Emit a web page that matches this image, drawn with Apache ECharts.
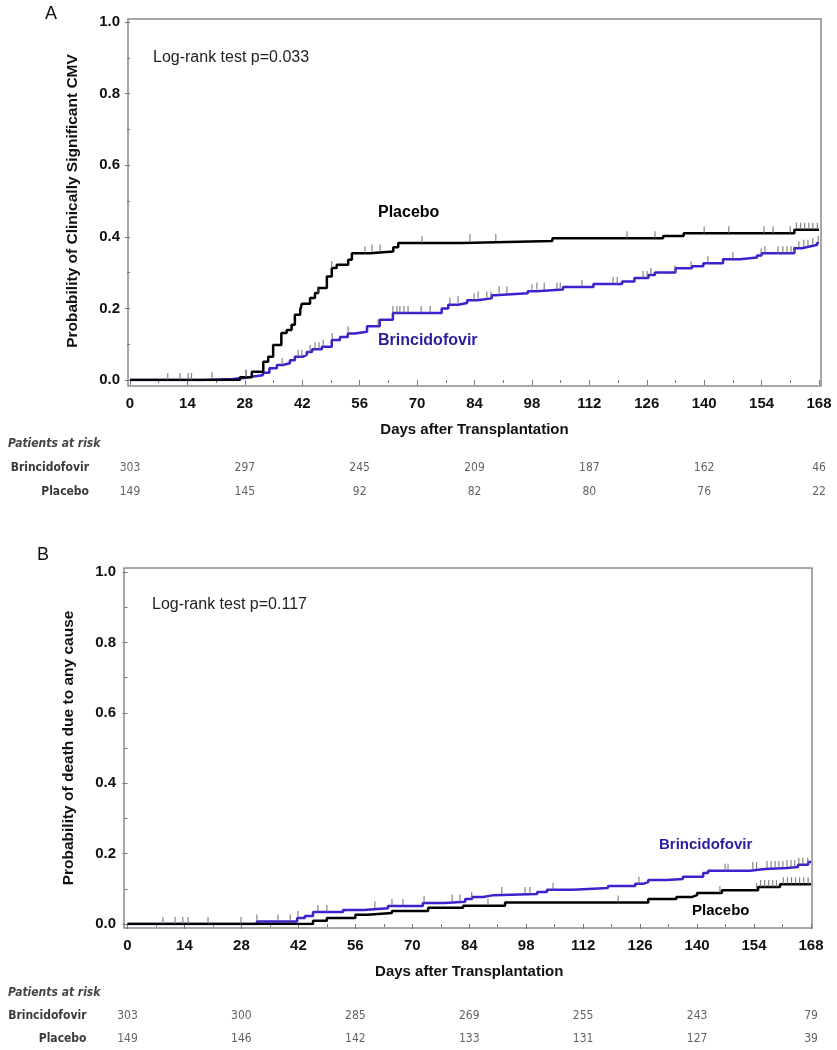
<!DOCTYPE html>
<html>
<head>
<meta charset="utf-8">
<script src="https://cdn.jsdelivr.net/npm/echarts@6/dist/echarts.min.js"></script>
<style>html,body{margin:0;padding:0;background:#fff}#c{width:837px;height:1050px}</style>
</head>
<body>
<div id="c"></div>
<script>
// ---------- DATA ----------
const xTicks = [0, 14, 28, 42, 56, 70, 84, 98, 112, 126, 140, 154, 168];
const riskDays = [0, 28, 56, 84, 112, 140, 168];

// Panel A: clinically significant CMV (step points [day, probability])
const cmvPlacebo = [[0,0],[26.8,0.008],[29.7,0.023],[32.5,0.051],[33.7,0.065],[34.9,0.098],[36.9,0.131],[38.2,0.14],[39.4,0.154],[40.2,0.182],[41.5,0.196],[41.9,0.213],[43.9,0.229],[45.1,0.243],[45.9,0.257],[48.0,0.289],[49.2,0.313],[50.4,0.322],[53.2,0.336],[54.1,0.354],[58.5,0.359],[64.2,0.371],[65.4,0.383],[81,0.388],[103,0.396],[130,0.402],[135,0.41],[162,0.42],[168,0.42]];
const cmvBrinci = [[0,0],[17.9,0.003],[25,0.006],[28.3,0.01],[30,0.013],[32.4,0.02],[34,0.033],[35.8,0.042],[37.3,0.047],[39,0.055],[40.2,0.065],[42.2,0.07],[43.1,0.078],[44.4,0.086],[46.8,0.093],[49.2,0.112],[51.2,0.12],[53.1,0.13],[54.8,0.135],[57.8,0.15],[60.9,0.168],[64.1,0.187],[76,0.2],[77.6,0.21],[80,0.215],[82.2,0.223],[84.6,0.228],[88.2,0.237],[89,0.242],[97,0.248],[99.2,0.253],[105.6,0.26],[113,0.268],[120,0.275],[123,0.285],[126.4,0.293],[128,0.3],[133,0.312],[137,0.318],[139.8,0.326],[144.6,0.337],[148.7,0.342],[152.9,0.348],[154,0.354],[162,0.368],[163.8,0.372],[165.4,0.377],[167.5,0.383],[168,0.383]];
const cmvPlaceboCensor = [9.2,12.2,14.2,15,28.3,45.8,49.2,57.3,59,61,71.2,82.9,89.2,121.2,128,140,146,154.6,156.8,161,162.5,163.5,164.5,165.5,166.5,167.6];
const cmvBrinciCensor = [20,28.3,37.1,41,41.9,43.9,45.1,46.1,47.1,49.3,53.2,60.5,64.1,65.1,65.8,66.8,67.8,71,73.2,78,80,83.9,84.9,87,88,90,91.9,98,99.2,101,104.1,104.9,110.2,117.8,118.8,125.1,126.1,127,132.9,136.8,140.9,147,153.9,154.8,158,159.2,160.2,161.2,161.9,163.1,164.3,165.3,166.5,167.8];
const cmvRiskBrinci = [303, 297, 245, 209, 187, 162, 46];
const cmvRiskPlacebo = [149, 145, 92, 82, 80, 76, 22];

// Panel B: death due to any cause
const deathPlacebo = [[0,0],[45.6,0.009],[49,0.017],[56,0.026],[59,0.031],[65,0.037],[73.9,0.046],[82.5,0.052],[92.8,0.061],[128,0.071],[134.9,0.077],[138.8,0.082],[140,0.088],[146.1,0.096],[155,0.105],[160.4,0.113],[168,0.113]];
const deathBrinci = [[0,0],[31.8,0.007],[41.7,0.017],[43.6,0.023],[45.6,0.034],[53,0.04],[58,0.045],[64,0.051],[72.6,0.06],[78,0.063],[83,0.071],[84.7,0.077],[87.4,0.082],[90,0.085],[100.7,0.091],[103.1,0.097],[109.5,0.102],[118.1,0.108],[124.8,0.114],[126.7,0.119],[128,0.125],[132.6,0.128],[136.5,0.134],[141.5,0.145],[142.7,0.151],[153,0.156],[156.7,0.159],[162.1,0.162],[164.8,0.168],[167.3,0.176],[168,0.176]];
const deathPlaceboCensor = [8.7,11.7,13.6,14.9,19.8,27.9,88.6,120.6,145.6,154.6,155.6,156.6,157.6,158.6,159.5,161.2,162.2,163.2,164.2,165.2,166.2,167.3];
const deathBrinciCensor = [31.8,37,40,41.9,46.8,49,60.8,65,67.7,72.9,79.8,81.7,84.6,92,97.7,98.9,104.6,125.7,146.9,147.6,153.7,154.6,157.2,158.2,159.2,160.1,161.1,162.1,163.1,164,165,166,167.2];
const deathRiskBrinci = [303, 300, 285, 269, 255, 243, 79];
const deathRiskPlacebo = [149, 146, 142, 133, 131, 127, 39];

// ---------- HELPERS ----------
const F = "'Liberation Sans', Arial, Helvetica, sans-serif";
const N = "'Liberation Sans Narrow', 'DejaVu Sans Condensed', 'Liberation Sans', sans-serif";
const BLUE = '#3a22cf';
const BLUE_TXT = '#2b1d9c';

function stepValue(curve, d) {
  let v = 0;
  for (const p of curve) { if (p[0] <= d) v = p[1]; else break; }
  return v;
}
function censorData(curve, days) { return days.map(d => [d, stepValue(curve, d)]); }
function riskData(brinci, placebo) {
  const out = [];
  riskDays.forEach((d, i) => {
    out.push([d, 'Brincidofovir', brinci[i]]);
    out.push([d, 'Placebo', placebo[i]]);
  });
  return out;
}

function plotX(gi, offset) {
  return {
    gridIndex: gi, type: 'value', min: 0, max: 168, interval: 14, offset: offset,
    axisLine: { show: false },
    axisTick: { show: true, length: 5, lineStyle: { color: '#777', width: 1 } },
    minorTick: { show: true, splitNumber: 2, length: 3, lineStyle: { color: '#777' } },
    splitLine: { show: false },
    axisLabel: { margin: 10, fontFamily: F, fontWeight: 'bold', fontSize: 15, color: '#111' },
    name: 'Days after Transplantation', nameLocation: 'middle', nameGap: 36,
    nameTextStyle: { fontFamily: F, fontWeight: 'bold', fontSize: 15, color: '#111' }
  };
}
function plotY(gi, offset, name) {
  return {
    gridIndex: gi, type: 'value', min: 0, max: 1, interval: 0.2, offset: offset,
    axisLine: { show: false },
    axisTick: { show: true, length: 5, lineStyle: { color: '#777', width: 1 } },
    minorTick: { show: true, splitNumber: 2, length: 3, lineStyle: { color: '#777' } },
    splitLine: { show: false },
    axisLabel: { margin: 8, fontFamily: F, fontWeight: 'bold', fontSize: 15, color: '#111',
      formatter: v => v.toFixed(1) },
    name: name, nameLocation: 'middle', nameGap: 47, nameRotate: 90,
    nameTextStyle: { fontFamily: F, fontWeight: 'bold', fontSize: 15.5, color: '#111' }
  };
}
function tableX(gi) { return { gridIndex: gi, type: 'value', min: 0, max: 168, show: false }; }
function tableY(gi) {
  return {
    gridIndex: gi, type: 'category', data: ['Placebo', 'Brincidofovir'],
    axisLine: { show: false }, axisTick: { show: false }, splitLine: { show: false },
    axisLabel: { margin: 41, fontFamily: N, fontWeight: 'bold', fontSize: 12, color: '#3a3a3a' }
  };
}
function stepLine(xi, data, color) {
  return { type: 'line', xAxisIndex: xi, yAxisIndex: xi, data: data, step: 'end',
    symbol: 'none', silent: true, lineStyle: { color: color, width: 2.5 }, z: 3 };
}
function censor(xi, data) {
  return { type: 'scatter', xAxisIndex: xi, yAxisIndex: xi, data: data, symbol: 'rect',
    symbolSize: [1.2, 7], symbolOffset: [0, -3.5], silent: true,
    itemStyle: { color: '#666' }, z: 4 };
}
function risk(xi, data) {
  return { type: 'scatter', xAxisIndex: xi, yAxisIndex: xi, data: data, symbolSize: 1,
    silent: true, itemStyle: { color: 'transparent' },
    label: { show: true, position: 'inside', formatter: p => String(p.value[2]),
      fontFamily: N, fontSize: 12, color: '#3a3a3a' } };
}
function txt(x, y, s, size, color, weight, extra) {
  return Object.assign({ type: 'text', x: x, y: y, silent: true,
    style: { text: s, fontFamily: F, fontSize: size, fill: color, fontWeight: weight || 'normal',
      textVerticalAlign: 'middle' } }, extra || {});
}

const option = {
  animation: false,
  backgroundColor: '#fff',
  grid: [
    { left: 130, top: 22, width: 689, height: 358 },
    { left: 127.5, top: 572, width: 683.5, height: 352 },
    { left: 130, top: 456, width: 689, height: 48 },
    { left: 127.5, top: 1004, width: 683.5, height: 48 }
  ],
  xAxis: [plotX(0, 6), plotX(1, 4), tableX(2), tableX(3)],
  yAxis: [plotY(0, 2, 'Probability of Clinically Significant CMV'),
          plotY(1, 3.5, 'Probability of death due to any cause'),
          tableY(2), tableY(3)],
  series: [
    stepLine(0, cmvBrinci, BLUE),
    stepLine(0, cmvPlacebo, '#000'),
    censor(0, censorData(cmvBrinci, cmvBrinciCensor)),
    censor(0, censorData(cmvPlacebo, cmvPlaceboCensor)),
    stepLine(1, deathBrinci, BLUE),
    stepLine(1, deathPlacebo, '#000'),
    censor(1, censorData(deathBrinci, deathBrinciCensor)),
    censor(1, censorData(deathPlacebo, deathPlaceboCensor)),
    risk(2, riskData(cmvRiskBrinci, cmvRiskPlacebo)),
    risk(3, riskData(deathRiskBrinci, deathRiskPlacebo))
  ],
  graphic: [
    { type: 'rect', silent: true, shape: { x: 128, y: 19, width: 693, height: 367 },
      style: { fill: 'none', stroke: '#8a8a8a', lineWidth: 1.5 } },
    { type: 'rect', silent: true, shape: { x: 124, y: 568, width: 688, height: 360 },
      style: { fill: 'none', stroke: '#8a8a8a', lineWidth: 1.5 } },
    txt(45, 14, 'A', 18, '#111'),
    txt(37, 555, 'B', 18, '#111'),
    txt(153, 58, 'Log-rank test p=0.033', 16, '#222'),
    txt(152, 605, 'Log-rank test p=0.117', 16, '#222'),
    txt(378, 213, 'Placebo', 16, '#000', 'bold'),
    txt(378, 341, 'Brincidofovir', 16, BLUE_TXT, 'bold'),
    txt(659, 845, 'Brincidofovir', 15, BLUE_TXT, 'bold'),
    txt(692, 911, 'Placebo', 15, '#000', 'bold'),
    { type: 'text', x: 8, y: 444, silent: true, style: { text: 'Patients at risk', fontFamily: N,
      fontSize: 12, fontStyle: 'italic', fontWeight: 'bold', fill: '#444', textVerticalAlign: 'middle' } },
    { type: 'text', x: 8, y: 993, silent: true, style: { text: 'Patients at risk', fontFamily: N,
      fontSize: 12, fontStyle: 'italic', fontWeight: 'bold', fill: '#444', textVerticalAlign: 'middle' } }
  ]
};

const chart = echarts.init(document.getElementById('c'), null, { renderer: 'canvas' });
chart.setOption(option);
</script>
</body>
</html>
